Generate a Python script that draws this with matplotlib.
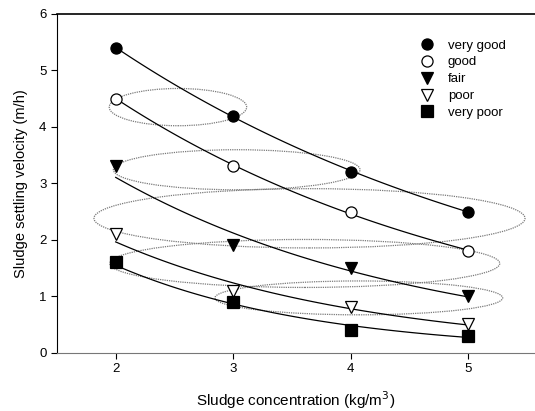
import numpy as np
import matplotlib
matplotlib.use('Agg')
import matplotlib.pyplot as plt
from matplotlib.patches import Ellipse
from matplotlib.lines import Line2D

plt.rcParams['font.family'] = ['Liberation Sans', 'DejaVu Sans']

conc = [2, 3, 4, 5]
very_good = [5.4, 4.2, 3.2, 2.5]
good = [4.5, 3.3, 2.5, 1.8]
fair = [3.3, 1.9, 1.5, 1.0]
poor = [2.1, 1.1, 0.8, 0.5]
very_poor = [1.6, 0.9, 0.4, 0.3]

labels = ['very good', 'good', 'fair', 'poor', 'very poor']

# ellipses: (x centre, y centre, width, height)
ell_x = [2.53, 3.03, 3.65, 3.61, 4.07]
ell_y = [4.35, 3.24, 2.38, 1.58, 0.97]
ell_w = [1.17, 2.10, 3.67, 3.32, 2.45]
ell_h = [0.66, 0.71, 1.05, 0.85, 0.60]

series = [very_good, good, fair, poor, very_poor]
styles = [('o', 'black'), ('o', 'white'), ('v', 'black'), ('v', 'white'), ('s', 'black')]

fig = plt.figure(figsize=(5.35, 4.11), dpi=100)
ax = fig.add_axes([0.1065, 0.142, 0.8935, 0.824])

for cx, cy, w, h in zip(ell_x, ell_y, ell_w, ell_h):
    e = Ellipse((cx, cy), w, h, fill=False, edgecolor='#7a7a7a', linestyle=(0, (1, 0.8)), linewidth=0.9)
    ax.add_patch(e)

xs = np.linspace(2, 5, 100)
handles = []
for vals, (m, fc), lab in zip(series, styles, labels):
    # exponential decay trend through the points
    b, a = np.polyfit(conc, np.log(vals), 1)
    ax.plot(xs, np.exp(a + b * xs), color='black', linewidth=0.9)
    ax.plot(conc, vals, linestyle='none', marker=m, markerfacecolor=fc,
            markeredgecolor='black', markersize=8, markeredgewidth=0.9)
    handles.append(Line2D([], [], linestyle='none', marker=m, markerfacecolor=fc,
                          markeredgecolor='black', markersize=8, markeredgewidth=0.9, label=lab))

ax.set_xlim(1.5, 5.57)
ax.set_ylim(0, 6)
ax.set_xticks([2, 3, 4, 5])
ax.set_yticks([0, 1, 2, 3, 4, 5, 6])
ax.tick_params(direction='out', length=4, width=0.8, labelsize=9.5)
ax.spines['right'].set_visible(False)
ax.spines['bottom'].set_color('#777777')
ax.spines['top'].set_linewidth(1.2)

ax.set_xlabel('Sludge concentration (kg/m$^3$)', fontsize=11, labelpad=10)
ax.set_ylabel('Sludge settling velocity (m/h)', fontsize=10.5, labelpad=8)

ax.legend(handles=handles, loc='upper left', bbox_to_anchor=(0.735, 0.96), frameon=False,
          fontsize=9.5, handlelength=1.0, handletextpad=1.1, labelspacing=0.35)

fig.savefig('out.png', dpi=100)
